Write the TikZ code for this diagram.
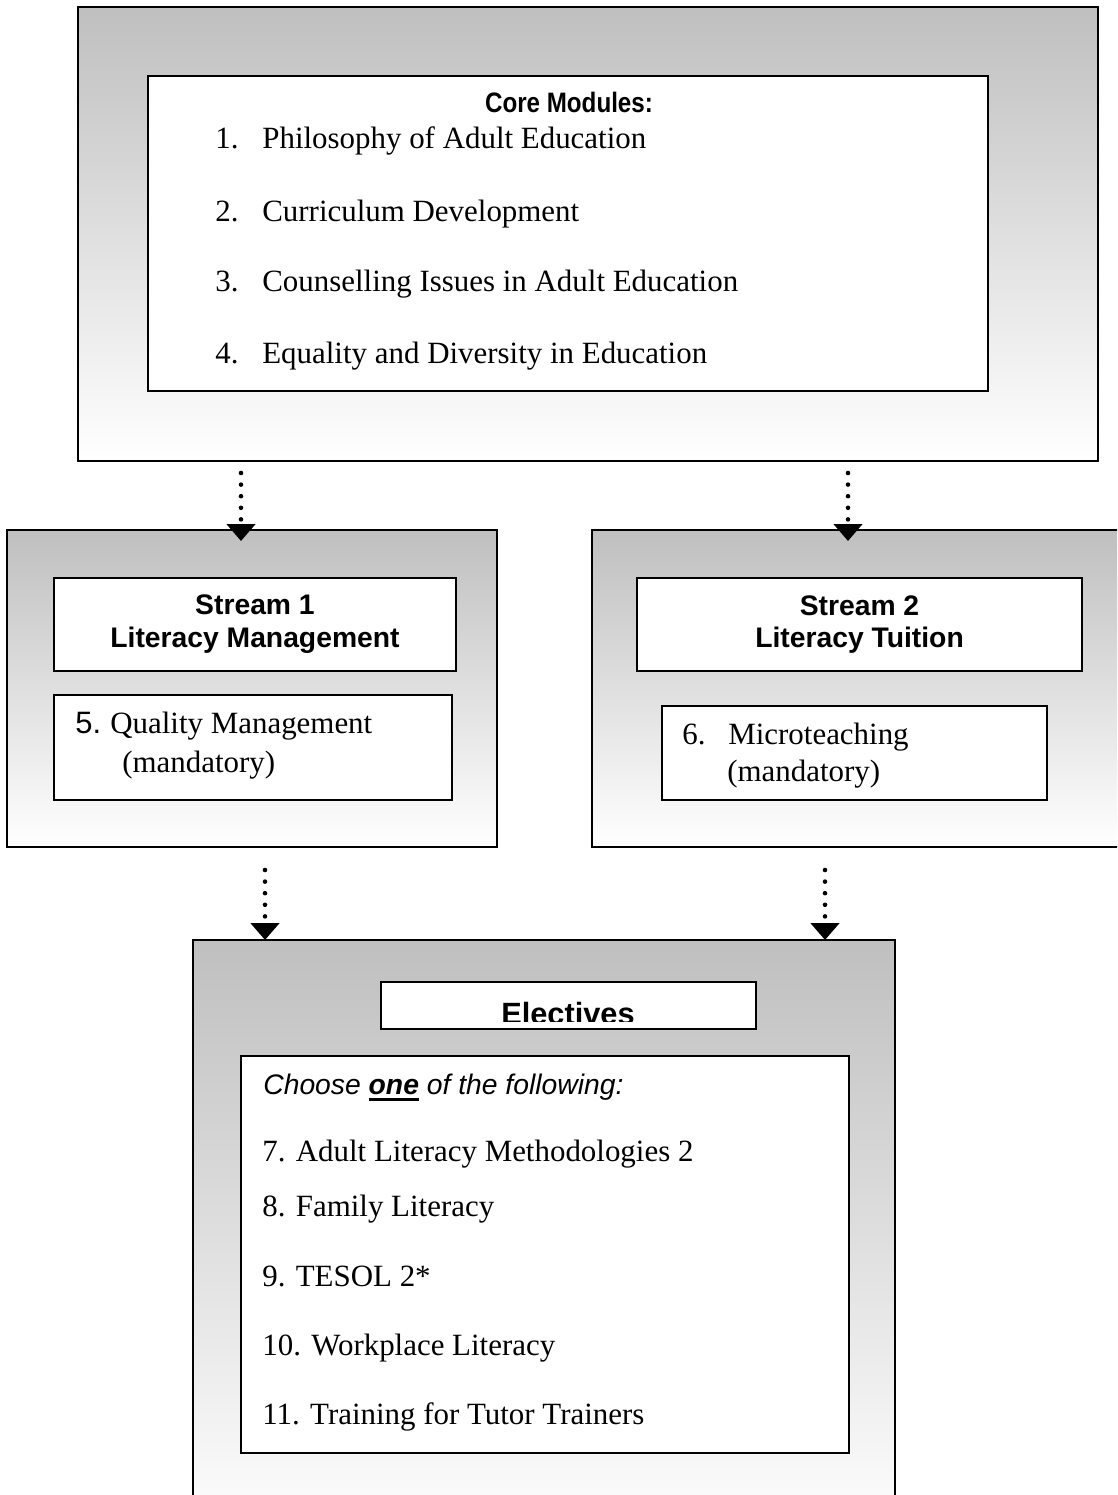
\documentclass[tikz,border=0pt]{standalone}
\usepackage{fontspec}
\setmainfont{Liberation Serif}
\setsansfont{Liberation Sans}
\newfontfamily\narrowsans[FakeStretch=0.86]{Liberation Sans}
\newcommand\boldul[1]{\setbox0=\hbox{#1}\rlap{\rule[-4pt]{\wd0}{2pt}}\box0\relax}
\usetikzlibrary{arrows.meta}

\begin{document}
\begin{tikzpicture}[x=0.02cm, y=-0.02cm,
  outerbox/.style={draw, line width=1.1pt, top color=black!25, bottom color=white, anchor=north west, inner sep=0pt, outer sep=0pt},
  innerbox/.style={draw, line width=1.1pt, fill=white, anchor=north west, inner sep=0pt, outer sep=0pt},
  item/.style={anchor=base west, inner sep=0pt, font=\fontsize{17.6}{21}\selectfont},
  head/.style={font=\sffamily\bfseries\fontsize{16.1}{18.7}\selectfont, align=center, inner sep=0pt},
  dots/.style={line width=2.6pt, line cap=round, dash pattern=on 0pt off 6.6pt, -{Triangle[length=9.6pt, width=15.9pt]}}]
 \def\p{0.02cm}
 \useasboundingbox (0,0) rectangle (1117,1495);
 \clip (0,0) rectangle (1117,1495);

 %Core modules
 \node[outerbox, minimum width=1020*\p, minimum height=454*\p] (core) at (78,7) {};
 \node[innerbox, minimum width=840*\p, minimum height=315*\p] (corel) at (148,76) {};
 \node[anchor=base, inner sep=0pt, font=\narrowsans\bfseries\fontsize{16}{19}\selectfont] (coreh) at (569,112) {Core Modules:};
 \node[item] (n1) at (215,148) {1.};
 \node[item] (c1) at (262,148) {Philosophy of Adult Education};
 \node[item] (n2) at (215,221) {2.};
 \node[item] (c2) at (262,221) {Curriculum Development};
 \node[item] (n3) at (215,291) {3.};
 \node[item] (c3) at (262,291) {Counselling Issues in Adult Education};
 \node[item] (n4) at (215,363) {4.};
 \node[item] (c4) at (262,363) {Equality and Diversity in Education};

 %Stream 1
 \node[outerbox, minimum width=490*\p, minimum height=317*\p] (s1) at (7,530) {};
 \node[innerbox, minimum width=402*\p, minimum height=93*\p] (s1t) at (54,578) {};
 \node[head] (s1h) at (s1t) {Stream 1\\Literacy Management};
 \node[innerbox, minimum width=398*\p, minimum height=105*\p] (s1m) at (54,695) {};
 \node[item] (n5) at (75,733) {\sffamily 5.};
 \node[item] (q5) at (110,733) {Quality Management};
 \node[item] (m5) at (122,772) {(mandatory)};

 %Stream 2
 \node[outerbox, minimum width=540*\p, minimum height=317*\p] (s2) at (592,530) {};
 \node[innerbox, minimum width=445*\p, minimum height=93*\p] (s2t) at (637,578) {};
 \node[head] (s2h) at (s2t) {Stream 2\\Literacy Tuition};
 \node[innerbox, minimum width=385*\p, minimum height=94*\p] (s2m) at (662,706) {};
 \node[item] (n6) at (682,744) {6.};
 \node[item] (q6) at (728,744) {Microteaching};
 \node[item] (m6) at (727,781) {(mandatory)};

 %Electives
 \node[outerbox, minimum width=702*\p, minimum height=600*\p] (elect) at (193,940) {};
 \node[innerbox, minimum width=375*\p, minimum height=47*\p] (electt) at (381,982) {};
 \begin{scope}
  \clip (381,982) rectangle (756,1021);
  \node[anchor=base, inner sep=0pt, font=\sffamily\bfseries\fontsize{17.5}{21}\selectfont] (electh) at (568,1024) {Electives};
 \end{scope}
 \node[innerbox, minimum width=608*\p, minimum height=397*\p] (electl) at (241,1056) {};
 \node[item, font=\sffamily\itshape\fontsize{16.1}{19}\selectfont] (choose) at (263,1094) {Choose \boldul{\textbf{one}} of the following:};
 \node[item] (e7) at (262,1161) {7. Adult Literacy Methodologies 2};
 \node[item] (e8) at (262,1216) {8. Family Literacy};
 \node[item] (e9) at (262,1286) {9. TESOL 2*};
 \node[item] (e10) at (262,1355) {10. Workplace Literacy};
 \node[item] (e11) at (262,1424) {11. Training for Tutor Trainers};

 %Arrows
 \coordinate (a1) at (241,473);
 \coordinate (a2) at (848,473);
 \coordinate (a3) at (265,870);
 \coordinate (a4) at (825,870);
 \draw[dots] (a1) -- ([yshift=-11*\p]a1 |- s1.north);
 \draw[dots] (a2) -- ([yshift=-11*\p]a2 |- s2.north);
 \draw[dots] (a3) -- (a3 |- elect.north);
 \draw[dots] (a4) -- (a4 |- elect.north);

\end{tikzpicture}
\end{document}
